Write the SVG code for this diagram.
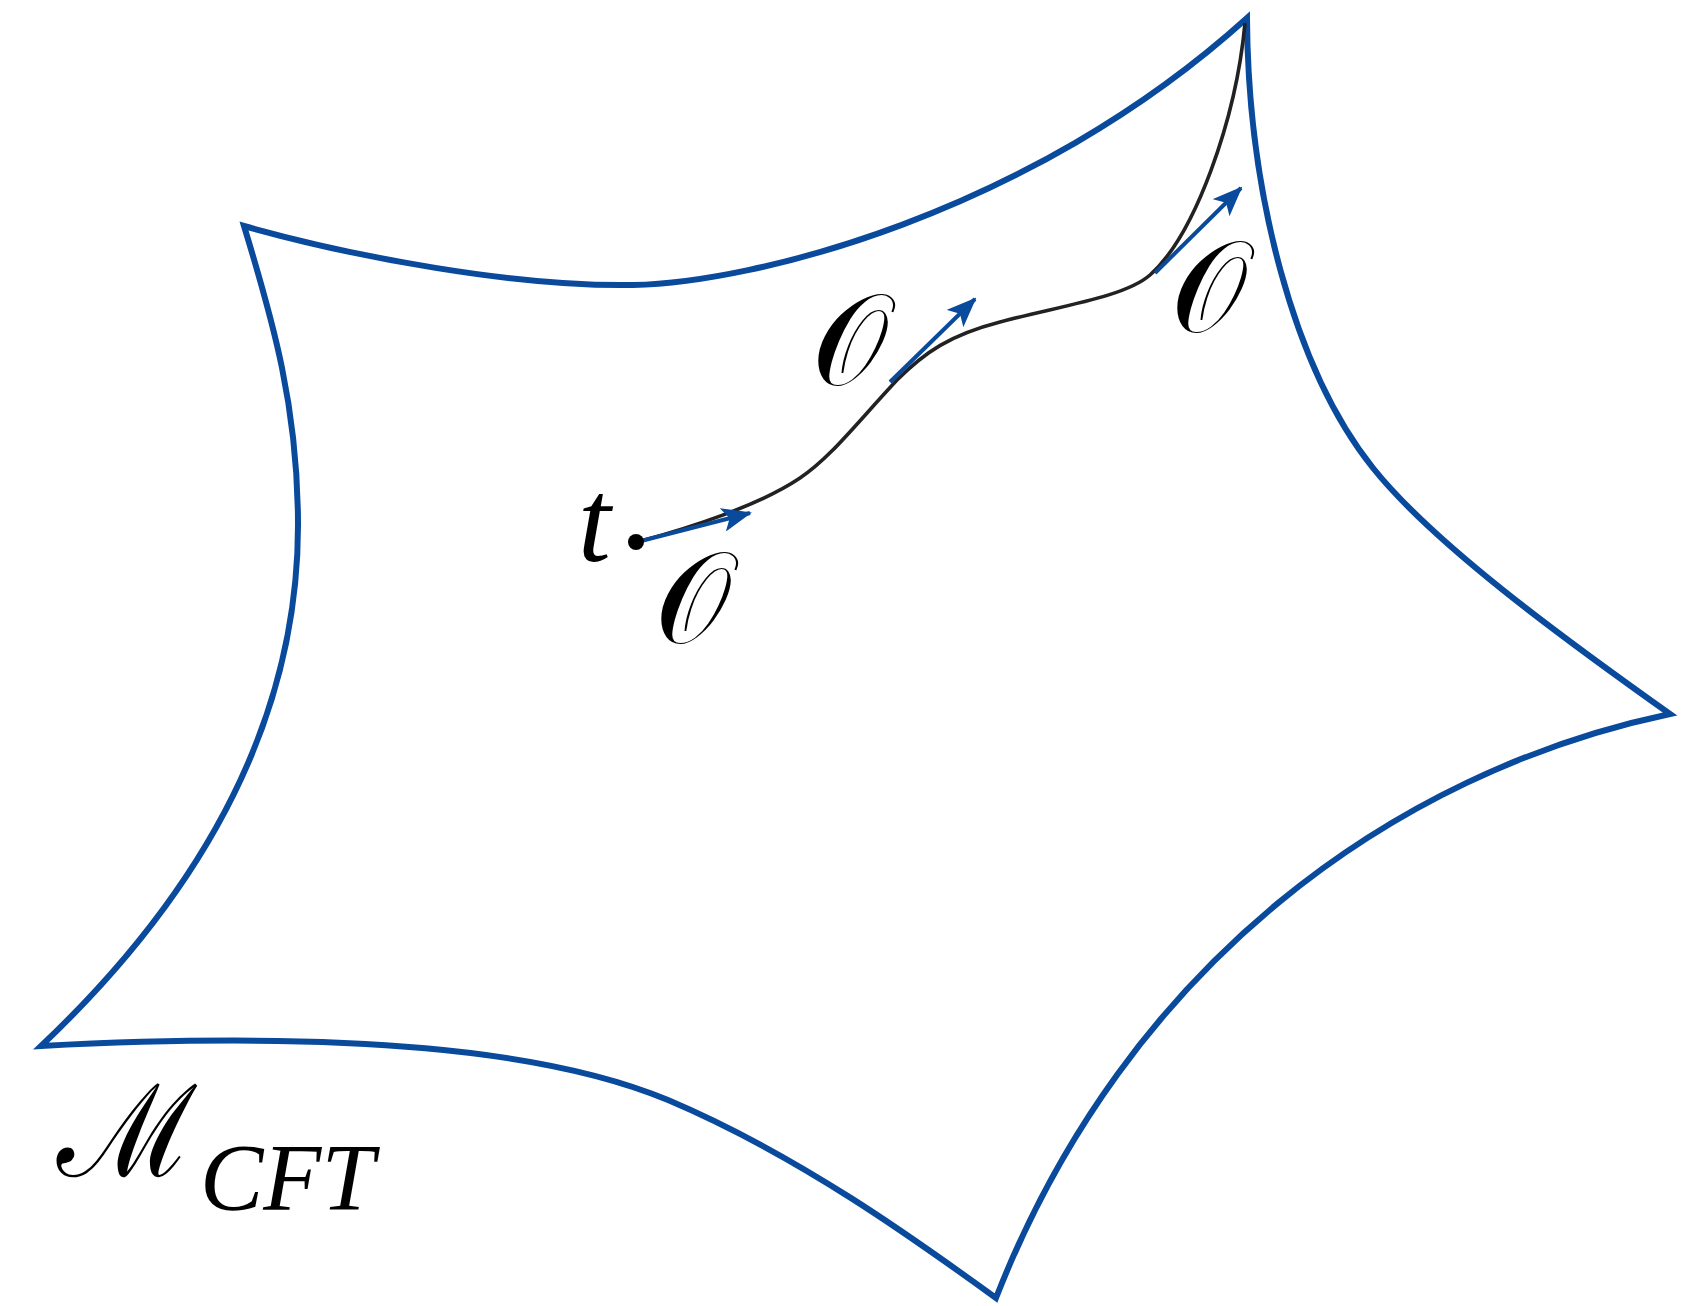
<svg xmlns="http://www.w3.org/2000/svg" width="1681" height="1306" viewBox="0 0 1681 1306">
<style>
.edge{fill:none;stroke:#0a4a9c;stroke-width:6;stroke-linejoin:miter;stroke-miterlimit:20}
.path{fill:none;stroke:#222;stroke-width:3.6}
.shaft{fill:none;stroke:#0a4a9c;stroke-width:4}
.lbl{font-family:"DejaVu Serif","Liberation Serif",serif;fill:#000}
.it{font-family:"Liberation Serif",serif;font-style:italic;fill:#000}
</style>
<defs>
<marker id="ah" viewBox="0 0 30 24" refX="28" refY="12" markerWidth="30" markerHeight="24" markerUnits="userSpaceOnUse" orient="auto">
<path d="M0,0 L30,12 L0,24 L7,12 Z" fill="#0a4a9c"/>
</marker>
</defs>
<g id="boundary">
<path class="edge" d="M244,226 C354,257 515,287 633,285 C751,283 1029,215 1247,18 C1248,190 1293,368 1373,468 C1433,543 1560,636 1670,714 C1394,772 1126,965 996,1298 C916,1240 798,1155 668,1100 C548,1050 350,1030 41,1046 C172,922 298,750 298,525 C298,408 273,321 244,226 Z"/>
</g>
<g id="connectors">
<path class="path" d="M637,542 C690,528 760,505 800,478 C830,458 855,425 897,380 C925,352 950,335 1000,322 C1060,306 1125,297 1150,275 C1195,235 1236,120 1245,23"/>
<path class="shaft" d="M637,542 L750,513" marker-end="url(#ah)"/>
<path class="shaft" d="M890,382 L975,299" marker-end="url(#ah)"/>
<path class="shaft" d="M1155,273 L1241,188" marker-end="url(#ah)"/>
</g>
<g id="dot"><circle cx="636" cy="542" r="8" fill="#000"/></g>
<g id="label-t"><text class="it" x="578" y="561" font-size="118">t</text></g>
<g id="label-O1"><text class="lbl" transform="translate(655,643) scale(0.93,1)" font-size="130">𝒪</text></g>
<g id="label-O2"><text class="lbl" transform="translate(812,385) scale(0.93,1)" font-size="130">𝒪</text></g>
<g id="label-O3"><text class="lbl" transform="translate(1171,332) scale(0.93,1)" font-size="130">𝒪</text></g>
<g id="label-M"><text class="lbl" transform="translate(57,1176) scale(0.95,1)" font-size="128">ℳ</text><text class="it" x="200" y="1210" font-size="95">CFT</text></g>
</svg>
